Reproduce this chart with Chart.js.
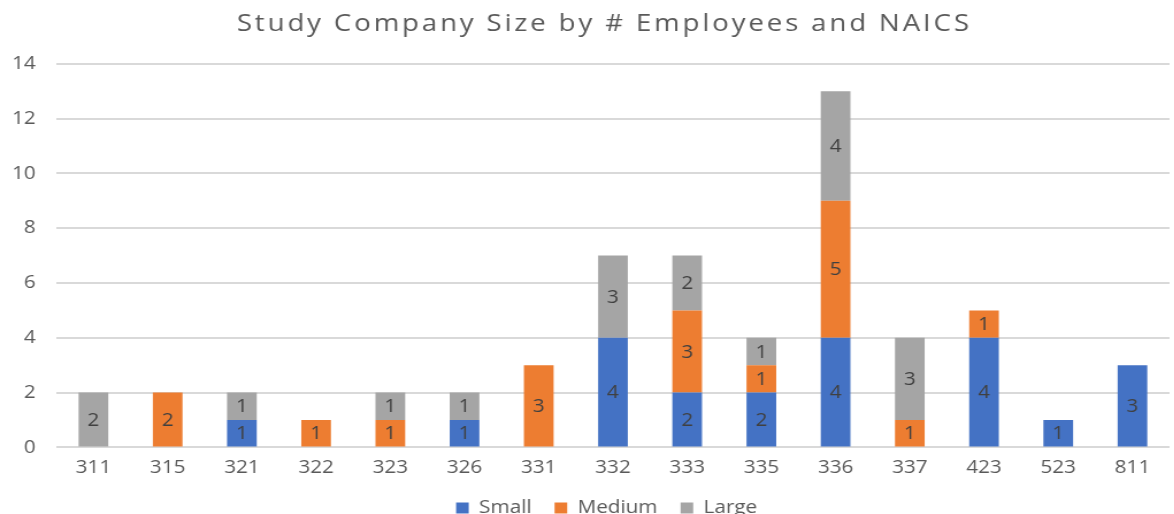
<!DOCTYPE html>
<html>
<head>
<meta charset="utf-8">
<script src="https://cdn.jsdelivr.net/npm/chart.js@4.4.1/dist/chart.umd.min.js"></script>
<style>
  html, body { margin: 0; padding: 0; background: #fff; overflow: hidden; }
  #wrap { width: 1174px; height: 514px; overflow: hidden; }
  /* the chart is drawn a bit narrower and widened to the full page */
  #sizeChart { transform: scaleX(1.15); transform-origin: 0 0; }
</style>
</head>
<body>
<div id="wrap"><canvas id="sizeChart" width="1021" height="537"></canvas></div>
<script>
// NAICS codes along the x axis
const naicsCodes = ["311", "315", "321", "322", "323", "326", "331", "332", "333", "335", "336", "337", "423", "523", "811"];

// companies per size class for each code
const smallCounts  = [0, 0, 1, 0, 0, 1, 0, 4, 2, 2, 4, 0, 4, 1, 3];
const mediumCounts = [0, 2, 0, 1, 1, 0, 3, 0, 3, 1, 5, 1, 1, 0, 0];
const largeCounts  = [2, 0, 1, 0, 1, 1, 0, 3, 2, 1, 4, 3, 0, 0, 0];

const yMax = 14;
const yStep = 2;

const fontFamily = "'Open Sans', 'Noto Sans', sans-serif";
const textGrey = "#595959";

// writes each segment's count in the middle of its bar piece
const segmentLabels = {
    id: "segmentLabels",
    afterDatasetsDraw(chart) {
        const ctx = chart.ctx;
        ctx.save();
        ctx.font = "18px " + fontFamily;
        ctx.fillStyle = "#404040";
        ctx.textAlign = "center";
        ctx.textBaseline = "middle";
        chart.data.datasets.forEach((ds, i) => {
            chart.getDatasetMeta(i).data.forEach((bar, j) => {
                const v = ds.data[j];
                if (!v) return;
                const p = bar.getProps(["x", "y", "base"], true);
                ctx.fillText(String(v), p.x, (p.y + p.base) / 2 + 1);
            });
        });
        ctx.restore();
    }
};

// nudge a layout box (title / legend) and optionally spread its letters
function wrapBlockDraw(chart, block, dx, dy, spacing) {
    if (!block) return;
    const draw = block.draw.bind(block);
    block.draw = (area) => {
        const ctx = chart.ctx;
        ctx.save();
        ctx.translate(dx, dy);
        if (spacing) ctx.letterSpacing = spacing;
        draw(area);
        ctx.restore();
        ctx.letterSpacing = "0px";
    };
}

const blockTweaks = {
    id: "blockTweaks",
    afterInit(chart) {
        wrapBlockDraw(chart, chart.titleBlock, 17, 0, "2.5px");
        wrapBlockDraw(chart, chart.legend, 19, -10, null);
    }
};

document.addEventListener("DOMContentLoaded", () => {
    const ctx = document.getElementById("sizeChart").getContext("2d");
    new Chart(ctx, {
        type: "bar",
        data: {
            labels: naicsCodes,
            datasets: [
                { label: "Small", data: smallCounts, backgroundColor: "#4472C4" },
                { label: "Medium", data: mediumCounts, backgroundColor: "#ED7D31" },
                { label: "Large", data: largeCounts, backgroundColor: "#A5A5A5" }
            ]
        },
        options: {
            responsive: false,
            animation: false,
            barPercentage: 0.4,
            categoryPercentage: 1,
            layout: { padding: { left: 0, right: 4, top: 0, bottom: 0 } },
            plugins: {
                title: {
                    display: true,
                    text: "Study Company Size by # Employees and NAICS",
                    color: textGrey,
                    font: { family: fontFamily, size: 24, weight: "normal" },
                    padding: { top: 10, bottom: 25 }
                },
                legend: {
                    position: "bottom",
                    labels: {
                        color: textGrey,
                        font: { family: fontFamily, size: 18 },
                        boxWidth: 11,
                        boxHeight: 11,
                        padding: 20
                    }
                },
                tooltip: { enabled: false }
            },
            scales: {
                x: {
                    stacked: true,
                    grid: { display: false, drawTicks: false },
                    border: { display: false },
                    ticks: { color: textGrey, font: { family: fontFamily, size: 18 }, padding: 10 }
                },
                y: {
                    stacked: true,
                    min: 0,
                    max: yMax,
                    afterFit: (scale) => { scale.width = 49; },
                    grid: { color: "#d9d9d9", lineWidth: 2, drawTicks: false },
                    border: { display: false },
                    ticks: { stepSize: yStep, color: textGrey, font: { family: fontFamily, size: 18 }, padding: 18 }
                }
            }
        },
        plugins: [segmentLabels, blockTweaks]
    });
});
</script>
</body>
</html>
